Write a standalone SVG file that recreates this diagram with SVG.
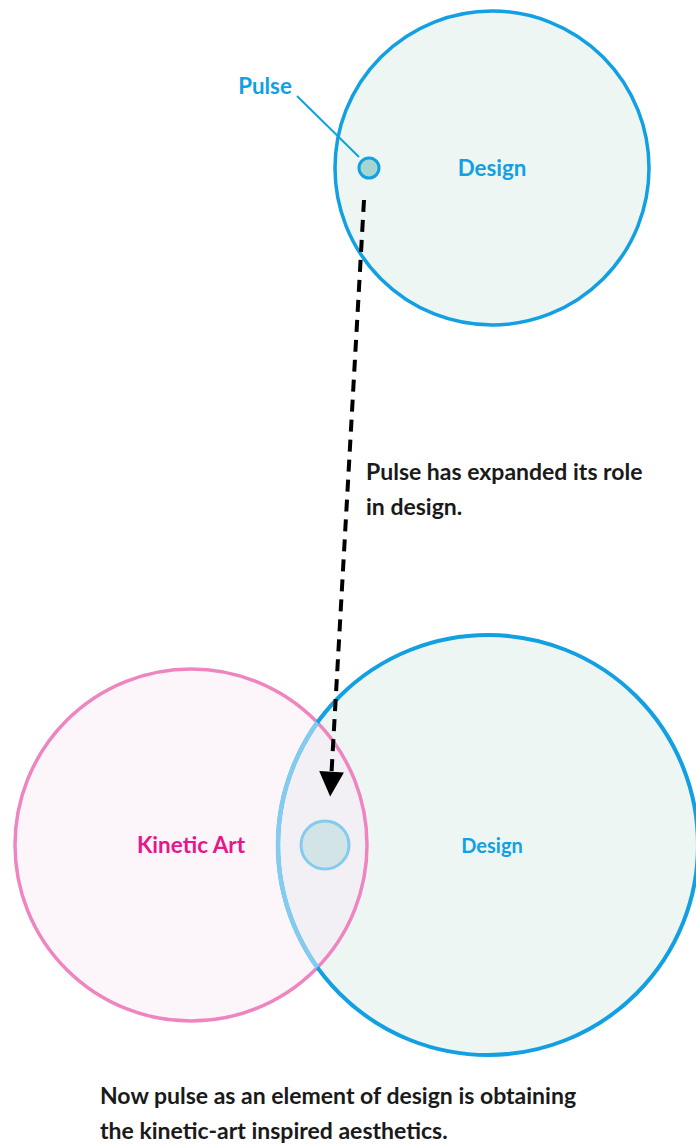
<svg xmlns="http://www.w3.org/2000/svg" width="696" height="1146" viewBox="0 0 696 1146">
<style>
text{font-family:Lato,"Open Sans","Liberation Sans",sans-serif;font-weight:bold}
.blue{fill:#12a0e3;font-size:22.3px}
.body{fill:#1a1a1a;font-size:23px}
</style>
<defs>
<clipPath id="kin"><circle cx="191" cy="845" r="176"/></clipPath>
<marker id="ah" viewBox="0 0 10 10" refX="9" refY="5" markerWidth="6.8" markerHeight="6.2" markerUnits="strokeWidth" orient="auto"><path d="M0,0 L10,5 L0,10 z" fill="#000"/></marker>
</defs>
<rect width="696" height="1146" fill="#fff"/>
<g id="design-top">
<circle cx="492" cy="168" r="157" fill="#edf6f3" stroke="#12a0e3" stroke-width="3.5"/>
<text class="blue" x="492" y="176" text-anchor="middle">Design</text>
</g>
<g id="pulse-top">
<circle cx="369" cy="168" r="10" fill="#a7d6d0" stroke="#12a0e3" stroke-width="3"/>
<line x1="297" y1="96" x2="359" y2="157" stroke="#12a0e3" stroke-width="2"/>
<text class="blue" x="265" y="94" text-anchor="middle">Pulse</text>
</g>
<g id="kinetic-art">
<circle cx="191" cy="845" r="176" fill="#fcf5f9"/>
</g>
<g id="design-bottom">
<circle cx="488" cy="845" r="210" fill="#edf6f3"/>
<circle cx="488" cy="845" r="210" fill="#f3f0f5" clip-path="url(#kin)"/>
<circle cx="191" cy="845" r="176" fill="none" stroke="#ee85c1" stroke-width="3.5"/>
<circle cx="488" cy="845" r="210" fill="none" stroke="#12a0e3" stroke-width="4"/>
<circle cx="488" cy="845" r="210" fill="none" stroke="#84ccef" stroke-width="4.5" clip-path="url(#kin)"/>
<text class="blue" x="492" y="853" text-anchor="middle" style="font-size:20px">Design</text>
<text x="191" y="853" text-anchor="middle" style="fill:#e6178a;font-size:22.5px">Kinetic Art</text>
</g>
<g id="pulse-bottom">
<circle cx="325" cy="845" r="24" fill="#d3e4e6" stroke="#84ccef" stroke-width="3"/>
</g>
<g id="connectors">
<line x1="364" y1="200" x2="330.3" y2="794" stroke="#000" stroke-width="4" stroke-dasharray="12,8" marker-end="url(#ah)"/>
</g>
<g id="labels">
<text class="body" x="366" y="480">Pulse has expanded its role</text>
<text class="body" x="366" y="515">in design.</text>
<text class="body" x="100" y="1104">Now pulse as an element of design is obtaining</text>
<text class="body" x="100" y="1139">the kinetic-art inspired aesthetics.</text>
</g>
</svg>
